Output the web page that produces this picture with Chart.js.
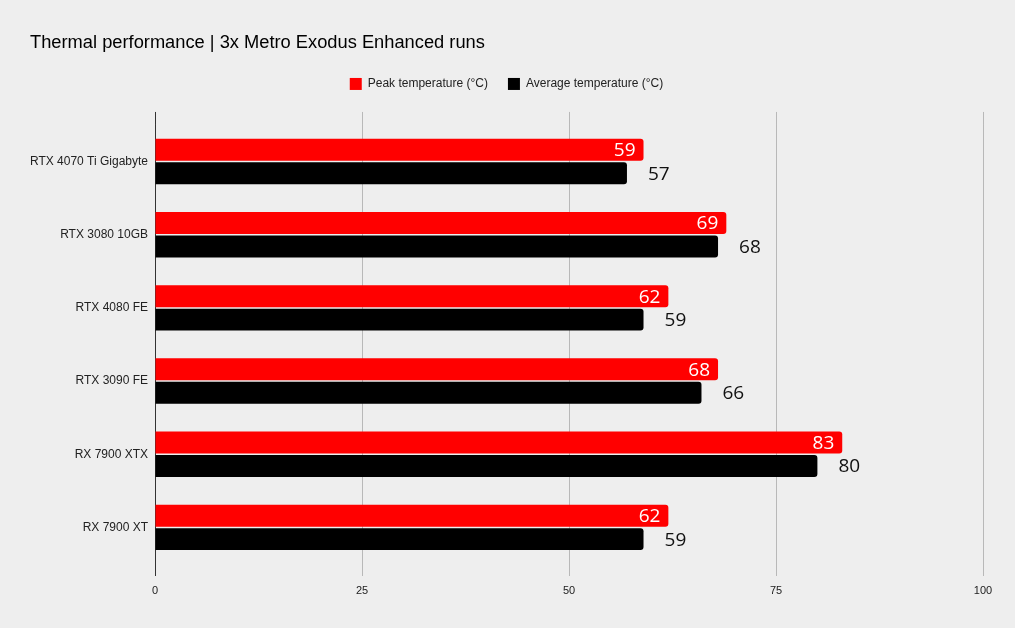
<!DOCTYPE html>
<html>
<head>
<meta charset="utf-8">
<script src="https://cdn.jsdelivr.net/npm/chart.js@4/dist/chart.umd.min.js"></script>
<style>
  html, body { margin: 0; padding: 0; background: #eeeeee; }
  #wrap { width: 1015px; height: 628px; position: relative; }
</style>
</head>
<body>
<div id="wrap"><canvas id="c" width="1015" height="628"></canvas></div>
<script>
const categories = ["RTX 4070 Ti Gigabyte", "RTX 3080 10GB", "RTX 4080 FE", "RTX 3090 FE", "RX 7900 XTX", "RX 7900 XT"];
const peakTemps = [59, 69, 62, 68, 83, 62];
const avgTemps = [57, 68, 59, 66, 80, 59];
const xTicks = [0, 25, 50, 75, 100];
const seriesNames = ["Peak temperature (°C)", "Average temperature (°C)"];

const GRID = '#b8b8b8';
const AXIS = '#333333';

const bgPlugin = {
  id: 'bg',
  beforeInit(chart) {
    const origFit = chart.legend.fit;
    chart.legend.fit = function () {
      origFit.bind(this)();
      this.height += 25;
    };
  },
  beforeDraw(chart) {
    const ctx = chart.ctx;
    ctx.save();
    ctx.fillStyle = '#eeeeee';
    ctx.fillRect(0, 0, chart.width, chart.height);
    ctx.restore();
  }
};

const gridTopPlugin = {
  id: 'gridTop',
  beforeDatasetsDraw(chart) {
    const xs = chart.scales.x;
    const ctx = chart.ctx;
    const top = chart.chartArea.top;
    ctx.save();
    ctx.lineWidth = 1;
    xs.ticks.forEach(t => {
      const x = Math.round(xs.getPixelForValue(t.value)) + 0.5;
      ctx.strokeStyle = t.value === 0 ? AXIS : GRID;
      ctx.beginPath();
      ctx.moveTo(x, top - 13);
      ctx.lineTo(x, top);
      ctx.stroke();
    });
    ctx.restore();
  }
};

const labelPlugin = {
  id: 'valLabels',
  afterDatasetsDraw(chart) {
    const ctx = chart.ctx;
    ctx.save();
    ctx.font = '19px "Open Sans", sans-serif';
    ctx.textBaseline = 'middle';
    chart.data.datasets.forEach((ds, di) => {
      const meta = chart.getDatasetMeta(di);
      meta.data.forEach((bar, i) => {
        const v = ds.data[i];
        if (di === 0) {
          ctx.fillStyle = '#ffffff';
          ctx.textAlign = 'right';
          ctx.fillText(String(v), bar.x - 8, bar.y + 1);
        } else {
          ctx.fillStyle = '#111111';
          ctx.textAlign = 'left';
          ctx.fillText(String(v), bar.x + 21, bar.y + 1);
        }
      });
    });
    ctx.restore();
  }
};

new Chart(document.getElementById('c'), {
  type: 'bar',
  data: {
    labels: categories,
    datasets: [
      { label: seriesNames[0], data: peakTemps, backgroundColor: '#ff0000', borderRadius: 3,
        categoryPercentage: 0.641, barPercentage: 0.936 },
      { label: seriesNames[1], data: avgTemps, backgroundColor: '#000000', borderRadius: 3,
        categoryPercentage: 0.641, barPercentage: 0.936 }
    ]
  },
  options: {
    indexAxis: 'y',
    responsive: false,
    animation: false,
    layout: { padding: { left: 30, right: 32, top: 0, bottom: 0 } },
    plugins: {
      title: {
        display: true,
        text: 'Thermal performance | 3x Metro Exodus Enhanced runs',
        align: 'start',
        color: '#000000',
        font: { family: '"Liberation Sans", Arial, sans-serif', size: 18.3, weight: 'normal' },
        padding: { top: 32, bottom: 4 }
      },
      legend: {
        display: true,
        position: 'top',
        labels: {
          color: '#222222',
          font: { family: '"Liberation Sans", Arial, sans-serif', size: 12 },
          boxWidth: 12,
          boxHeight: 12,
          padding: 20
        }
      },
      tooltip: { enabled: false }
    },
    scales: {
      x: {
        min: 0,
        max: 100,
        afterBuildTicks(scale) { scale.ticks = xTicks.map(v => ({ value: v })); },
        afterFit(scale) { scale.height = 64; },
        grid: {
          color: c => (c.tick && c.tick.value === 0) ? AXIS : GRID,
          tickLength: 12,
          lineWidth: 1
        },
        border: { display: false },
        ticks: {
          color: '#222222',
          font: { family: '"Liberation Sans", Arial, sans-serif', size: 11 },
          padding: 8
        }
      },
      y: {
        afterFit(scale) { scale.width = 125; },
        grid: { display: false, drawTicks: false },
        border: { display: false },
        ticks: {
          color: '#222222',
          font: { family: '"Liberation Sans", Arial, sans-serif', size: 12 },
          padding: 7
        }
      }
    }
  },
  plugins: [bgPlugin, gridTopPlugin, labelPlugin]
});
</script>
</body>
</html>
